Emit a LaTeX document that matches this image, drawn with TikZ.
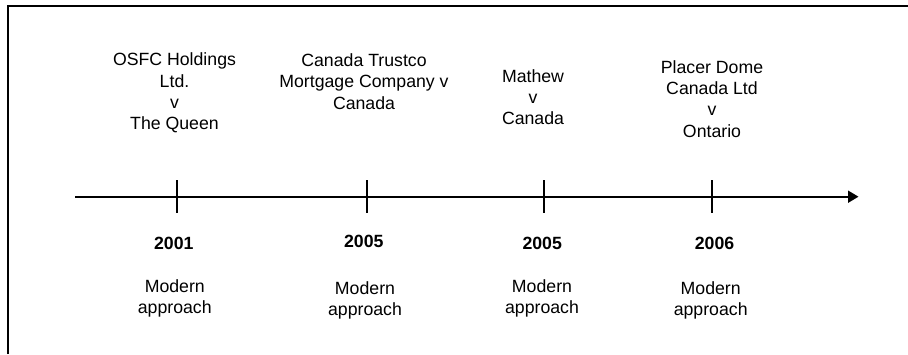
\documentclass[tikz,border=0pt]{standalone}
\usepackage{fontspec}
\setmainfont{Liberation Sans}
\usetikzlibrary{arrows.meta}

\tikzset{
  case/.style={align=center, inner sep=0pt, anchor=north,
               font=\fontsize{17.7}{21.4}\selectfont},
  year/.style={inner sep=0pt, anchor=north,
               font=\fontsize{17.7}{21.4}\selectfont\bfseries},
  tick/.style={line width=1.9pt},
}

\begin{document}
\begin{tikzpicture}[x=1pt,y=-1pt]
  \useasboundingbox (0,0) rectangle (908,354);

  % Frame
  \draw[line width=2.4pt] (8,354) -- (8,6) -- (908,6);

  \coordinate (S) at (75,196.7);
  \coordinate (E) at (858.5,196.7);
  \coordinate (A) at (176.7,196.7);
  \coordinate (B) at (366.7,196.7);
  \coordinate (C) at (543.9,196.7);
  \coordinate (D) at (711.7,196.7);

  % Time axis
  \draw[line width=1.8pt, -{Triangle[length=10.5pt,width=12pt]}] (S) -- (E);

  % Ticks
  \draw[tick] (A) ++(0,-16.5) -- ++(0,33);
  \draw[tick] (B) ++(0,-16.5) -- ++(0,33);
  \draw[tick] (C) ++(0,-16.5) -- ++(0,33);
  \draw[tick] (D) ++(0,-16.5) -- ++(0,33);

  % Cases
  \node[case] (osfc)    at (174.5,52.7) {OSFC Holdings\\Ltd.\\v\\The Queen};
  \node[case] (trustco) at (364,53.3)   {Canada Trustco\\Mortgage Company v\\Canada};
  \node[case] (mathew)  at (533,69)     {Mathew\\v\\Canada};
  \node[case] (placer)  at (712,60)     {Placer Dome\\Canada Ltd\\v\\Ontario};

  % Years
  \node[year] (y1) at (173.8,236.7) {2001};
  \node[year] (y2) at (363.8,235)   {2005};
  \node[year] (y3) at (542.2,236.7) {2005};
  \node[year] (y4) at (714.5,236.7) {2006};

  % Approach taken
  \node[case] (m1) at (174.8,279.5) {Modern\\approach};
  \node[case] (m2) at (365,281)     {Modern\\approach};
  \node[case] (m3) at (542,279.5)   {Modern\\approach};
  \node[case] (m4) at (710.7,281)   {Modern\\approach};

\end{tikzpicture}
\end{document}
